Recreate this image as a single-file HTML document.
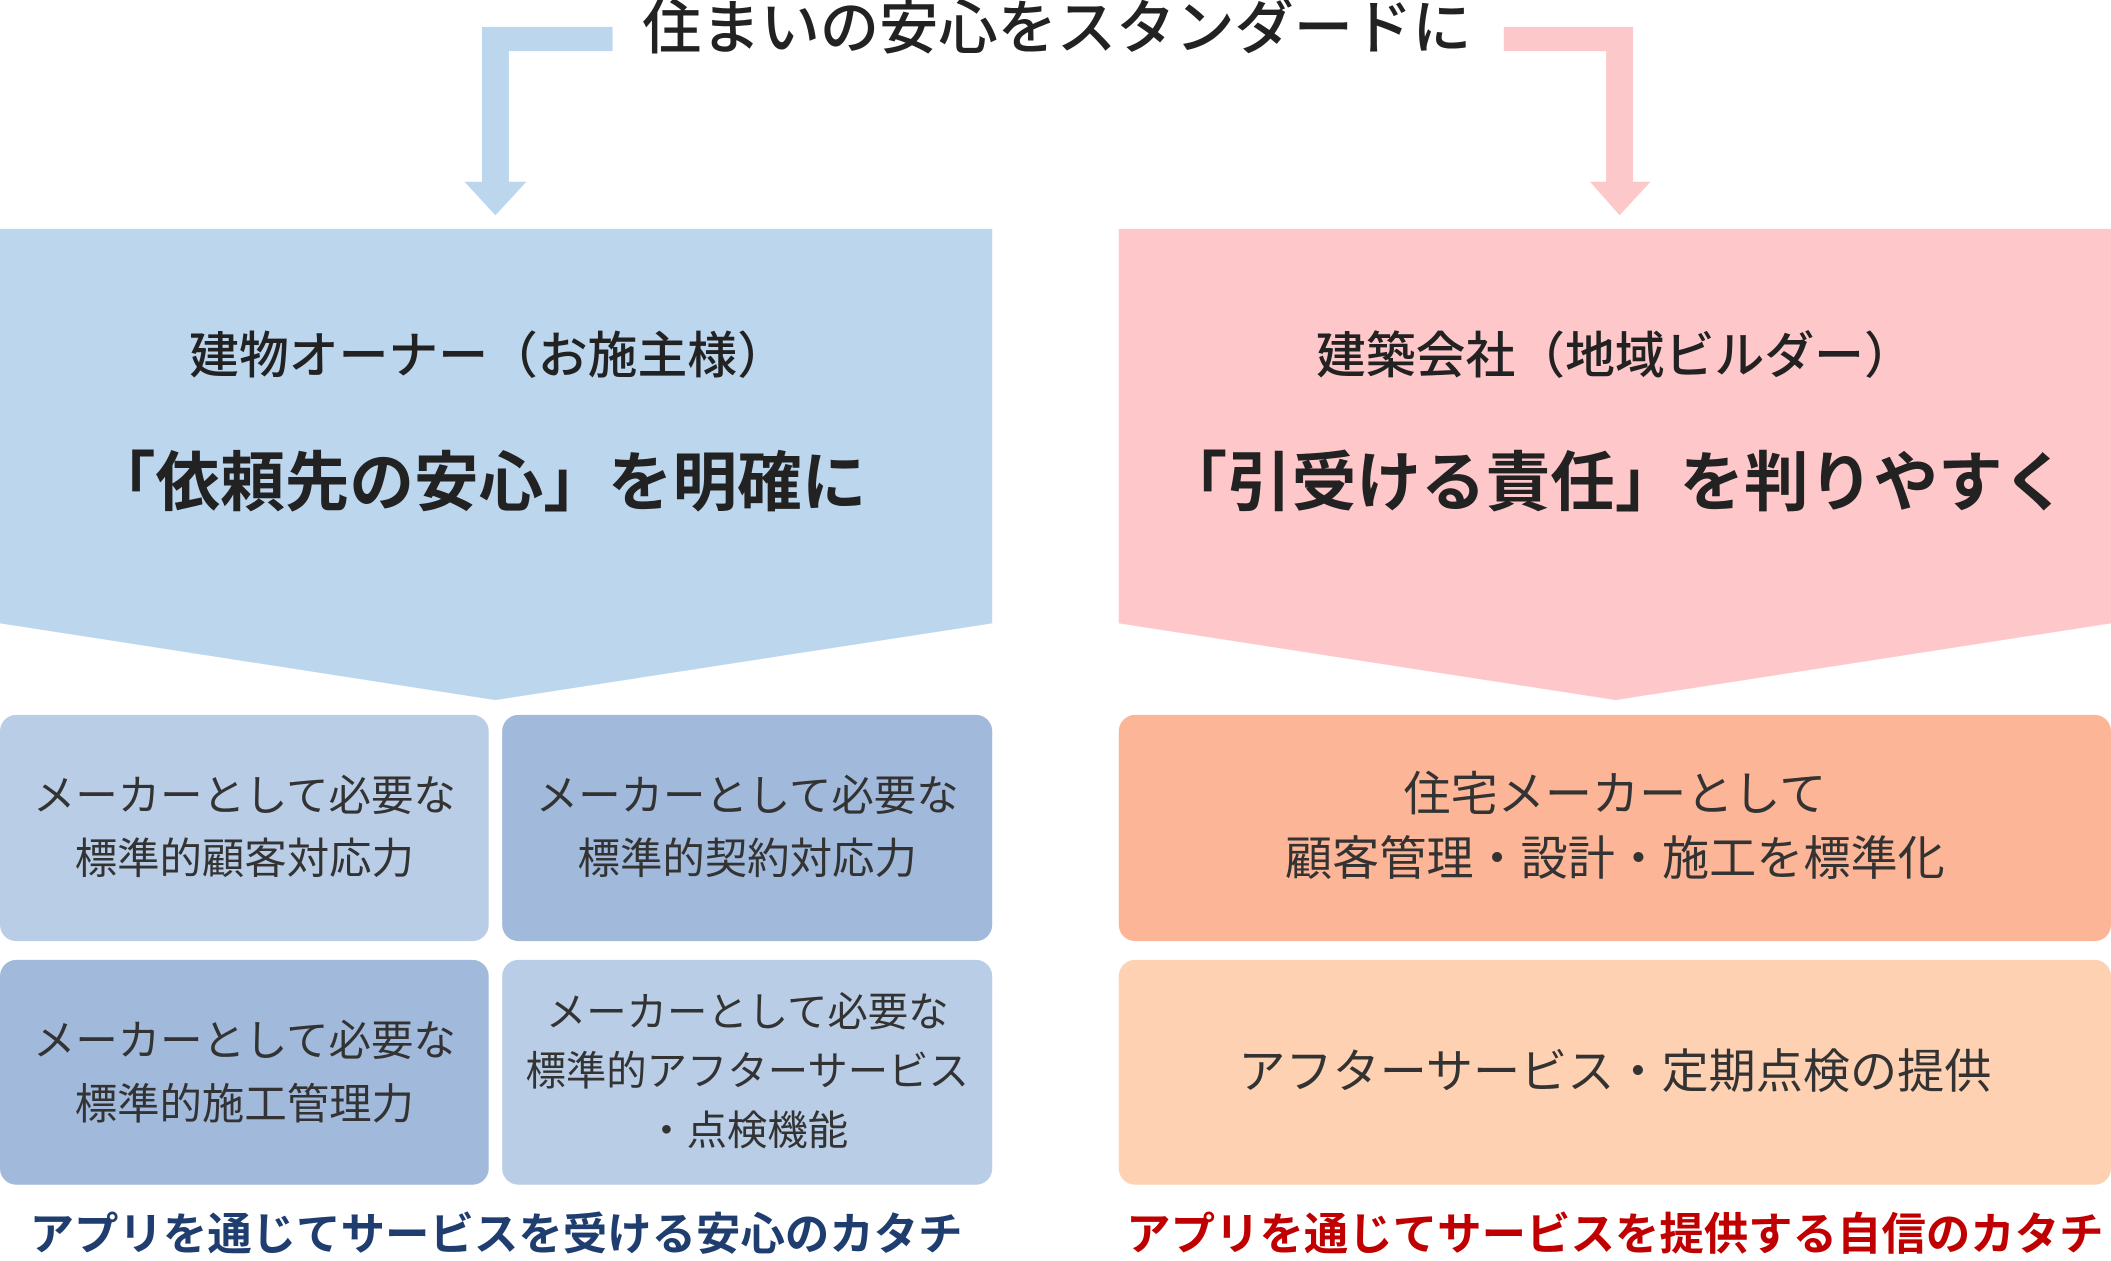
<!DOCTYPE html>
<html><head><meta charset="utf-8"><style>
html,body{margin:0;padding:0;background:#fff;width:2111px;height:1261px;overflow:hidden}
#c{position:absolute;left:0;top:0;width:1568px;height:937px;transform:scale(1.3463);transform-origin:0 0;font-family:"Liberation Sans","Noto Sans CJK JP",sans-serif;color:#222}
.t{position:absolute;text-align:center;white-space:nowrap;line-height:1}
.b{position:absolute;border-radius:12px;display:flex;align-items:center;justify-content:center;text-align:center;font-size:31.5px;line-height:47px;color:#333}
</style></head><body><div id="c">
<svg width="1568" height="937" style="position:absolute;left:0;top:0">
<polygon points="358,20 455,20 455,38 378,38 378,135 391,135 368,160 345,135 358,135" fill="#bcd6ee"/>
<polygon points="1117,20 1213,20 1213,135 1226,135 1203,160 1181,135 1193,135 1193,38 1117,38" fill="#fdc8ca"/>
<polygon points="0,170 737,170 737,463 368,520 0,463" fill="#bcd6ee"/>
<polygon points="831,170 1568,170 1568,463 1200,520 831,463" fill="#fec8ca"/>
</svg>
<div class="t" style="left:380px;width:810px;top:0px;font-size:44px;font-weight:500">住まいの安心をスタンダードに</div>
<div class="t" style="left:-6px;width:737px;top:246px;font-size:37px;font-weight:500">建物オーナー（お施主様）</div>
<div class="t" style="left:-13px;width:737px;top:336px;font-size:48px;font-weight:bold">「依頼先の安心」を明確に</div>
<div class="t" style="left:831px;width:737px;top:246px;font-size:37px;font-weight:500">建築会社（地域ビルダー）</div>
<div class="t" style="left:831px;width:737px;top:336px;font-size:48px;font-weight:bold">「引受ける責任」を判りやすく</div>
<div class="b" style="left:0;top:531px;width:363px;height:168px;background:#b9cde6">メーカーとして必要な<br>標準的顧客対応力</div>
<div class="b" style="left:373px;top:531px;width:364px;height:168px;background:#a1b9db">メーカーとして必要な<br>標準的契約対応力</div>
<div class="b" style="left:0;top:713px;width:363px;height:167px;background:#a1b9db">メーカーとして必要な<br>標準的施工管理力</div>
<div class="b" style="left:373px;top:713px;width:364px;height:167px;background:#b9cde6;line-height:44px;font-size:30px">メーカーとして必要な<br>標準的アフターサービス<br>・点検機能</div>
<div class="b" style="left:831px;top:531px;width:737px;height:168px;background:#fdb597;font-size:35px;line-height:48px">住宅メーカーとして<br>顧客管理・設計・施工を標準化</div>
<div class="b" style="left:831px;top:713px;width:737px;height:167px;background:#fed1b2;font-size:35px">アフターサービス・定期点検の提供</div>
<div class="t" style="left:0;width:737px;top:900px;font-size:33px;font-weight:bold;color:#1f3d6e">アプリを通じてサービスを受ける安心のカタチ</div>
<div class="t" style="left:831px;width:737px;top:900px;font-size:33px;font-weight:bold;color:#c00000">アプリを通じてサービスを提供する自信のカタチ</div>
</div></body></html>
